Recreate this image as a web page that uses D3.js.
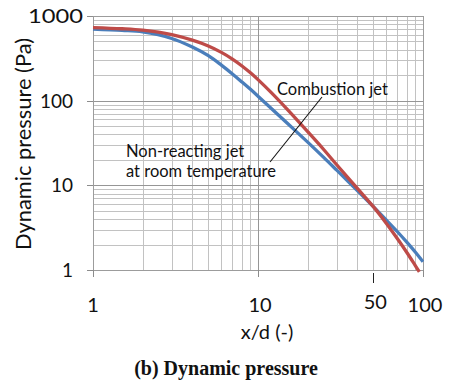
<!DOCTYPE html>
<html>
<head>
<meta charset="utf-8">
<script src="https://cdn.jsdelivr.net/npm/d3@7/dist/d3.min.js"></script>
<style>
  html, body { margin: 0; padding: 0; background: #fff; }
  svg { display: block; }
</style>
</head>
<body>
<svg id="chart" width="449" height="381"></svg>
<script>
// Axial decay of dynamic pressure along the jet centreline (log-log)
const xTickValues = [1, 10, 50, 100];
const xTickLabels = ["1", "10", "50", "100"];
const yTickValues = [1, 10, 100, 1000];
const yTickLabels = ["1", "10", "100", "1000"];

const seriesNames = ["Non-reacting jet", "Combustion jet"];

const xNonReacting = [1, 1.5, 2, 3, 4, 5, 6, 7, 8, 9, 10, 12, 15, 20, 25, 30, 40, 50, 60, 70, 80, 90, 100];
const pNonReacting = [702, 676, 648, 543, 430, 340, 263, 207, 166, 136, 113, 81.5, 54.5, 32.4, 21.4, 15.1, 8.67, 5.6, 3.88, 2.83, 2.12, 1.62, 1.25];

const xCombustion = [1, 1.5, 2, 3, 4, 5, 6, 7, 8, 9, 10, 12, 15, 20, 25, 30, 40, 50, 60, 70, 80, 90, 95];
const pCombustion = [730, 707, 679, 602, 518, 443, 372, 310, 257, 213, 177, 125, 79.3, 43, 26.5, 17.5, 9.2, 5.6, 3.55, 2.34, 1.6, 1.12, 0.95];

const minorDecades = [1, 10, 100];
const minorSteps = [2, 3, 4, 5, 6, 7, 8, 9];

const svg = d3.select("#chart");
const plot = { left: 93, right: 423, top: 16, bottom: 270 };

const x = d3.scaleLog().domain([1, 100]).range([plot.left, plot.right]);
const y = d3.scaleLog().domain([1, 1000]).range([plot.bottom, plot.top]);

const FONT = "Lato, 'Open Sans', sans-serif";

// Grid: minor lines first, then the decade lines
const xMinor = minorDecades.slice(0, 2).flatMap(d => minorSteps.map(s => d * s));
const yMinor = minorDecades.flatMap(d => minorSteps.map(s => d * s));
const px = v => Math.round(v) + 0.5;

const grid = svg.append("g").attr("shape-rendering", "crispEdges");
grid.selectAll(".xm").data(xMinor).enter().append("line")
  .attr("x1", d => px(x(d))).attr("x2", d => px(x(d)))
  .attr("y1", plot.top).attr("y2", plot.bottom)
  .attr("stroke", "#c2c2c2").attr("stroke-width", 1);
grid.selectAll(".ym").data(yMinor).enter().append("line")
  .attr("y1", d => px(y(d))).attr("y2", d => px(y(d)))
  .attr("x1", plot.left).attr("x2", plot.right)
  .attr("stroke", "#c2c2c2").attr("stroke-width", 1);
grid.selectAll(".xM").data([10]).enter().append("line")
  .attr("x1", d => px(x(d))).attr("x2", d => px(x(d)))
  .attr("y1", plot.top).attr("y2", plot.bottom)
  .attr("stroke", "#969696").attr("stroke-width", 1);
grid.selectAll(".yM").data([10, 100]).enter().append("line")
  .attr("y1", d => px(y(d))).attr("y2", d => px(y(d)))
  .attr("x1", plot.left).attr("x2", plot.right)
  .attr("stroke", "#969696").attr("stroke-width", 1);

// Frame
grid.append("rect")
  .attr("x", plot.left + 0.5).attr("y", plot.top + 0.5)
  .attr("width", plot.right - plot.left).attr("height", plot.bottom - plot.top)
  .attr("fill", "none").attr("stroke", "#9c9c9c");

// Tick marks
grid.selectAll(".yt").data(yTickValues).enter().append("line")
  .attr("x1", plot.left - 6).attr("x2", plot.left)
  .attr("y1", d => px(y(d))).attr("y2", d => px(y(d)))
  .attr("stroke", "#8c8c8c");
grid.selectAll(".xt").data(xTickValues.filter(v => v !== 50)).enter().append("line")
  .attr("x1", d => px(x(d))).attr("x2", d => px(x(d)))
  .attr("y1", plot.bottom).attr("y2", plot.bottom + 7)
  .attr("stroke", "#8c8c8c");
grid.selectAll(".xt50").data([50]).enter().append("line")
  .attr("x1", d => px(x(d))).attr("x2", d => px(x(d)))
  .attr("y1", plot.bottom + 3).attr("y2", plot.bottom + 13)
  .attr("stroke", "#222").attr("stroke-width", 1.5);

// Tick labels
svg.selectAll(".ylab").data(yTickValues).enter().append("text")
  .attr("x", d => d === 1000 ? 83 : 73).attr("y", d => y(d))
  .attr("dy", "0.36em").attr("text-anchor", "end")
  .attr("font-family", FONT).attr("font-size", 19).attr("fill", "#111")
  .each(function (d) { if (d === 1000) d3.select(this).attr("textLength", 55).attr("lengthAdjust", "spacingAndGlyphs"); })
  .text((d, i) => yTickLabels[i]);

svg.selectAll(".xlab").data(xTickValues).enter().append("text")
  .attr("x", d => x(d) + (d === 1 ? 0 : 2)).attr("y", d => d === 50 ? 309 : 312)
  .attr("text-anchor", "middle")
  .attr("font-family", FONT).attr("font-size", 20).attr("fill", "#111")
  .text((d, i) => xTickLabels[i]);

// Axis titles
svg.append("text")
  .attr("transform", "translate(31,144) rotate(-90)")
  .attr("text-anchor", "middle")
  .attr("font-family", FONT).attr("font-size", 20.5).attr("fill", "#111")
  .attr("textLength", 212).attr("lengthAdjust", "spacingAndGlyphs")
  .text("Dynamic pressure (Pa)");

svg.append("text")
  .attr("x", 267).attr("y", 339).attr("text-anchor", "middle")
  .attr("font-family", FONT).attr("font-size", 20).attr("fill", "#111")
  .text("x/d (-)");

svg.append("text")
  .attr("x", 226).attr("y", 375).attr("text-anchor", "middle")
  .attr("font-family", "'Liberation Serif', 'Times New Roman', serif")
  .attr("font-weight", "bold").attr("font-size", 20).attr("fill", "#111")
  .text("(b) Dynamic pressure");

// Curves
const line = d3.line()
  .x(d => x(d[0])).y(d => y(d[1]))
  .curve(d3.curveCatmullRom.alpha(0.5));

const series = [
  { name: seriesNames[0], xs: xNonReacting, ps: pNonReacting, color: "#4a7ebb" },
  { name: seriesNames[1], xs: xCombustion, ps: pCombustion, color: "#be4b48" }
];

svg.append("clipPath").attr("id", "clipR").append("rect")
  .attr("x", 0).attr("y", 0).attr("width", plot.right + 1).attr("height", 381);

svg.append("g").attr("clip-path", "url(#clipR)")
  .selectAll("path").data(series).enter().append("path")
  .attr("d", s => line(s.xs.map((v, i) => [v, s.ps[i]])))
  .attr("fill", "none").attr("stroke", s => s.color)
  .attr("stroke-width", 3.3).attr("stroke-linejoin", "round");

// Labels with leader line
svg.append("line")
  .attr("x1", 322).attr("y1", 97).attr("x2", 270).attr("y2", 162)
  .attr("stroke", "#111").attr("stroke-width", 1.1);

const annot = svg.append("g").attr("font-family", FONT).attr("font-size", 16.5).attr("fill", "#111");
annot.append("text").attr("x", 277).attr("y", 95).text("Combustion jet");
annot.append("text").attr("x", 126).attr("y", 157).text("Non-reacting jet");
annot.append("text").attr("x", 126).attr("y", 177).text("at room temperature");
</script>
</body>
</html>
